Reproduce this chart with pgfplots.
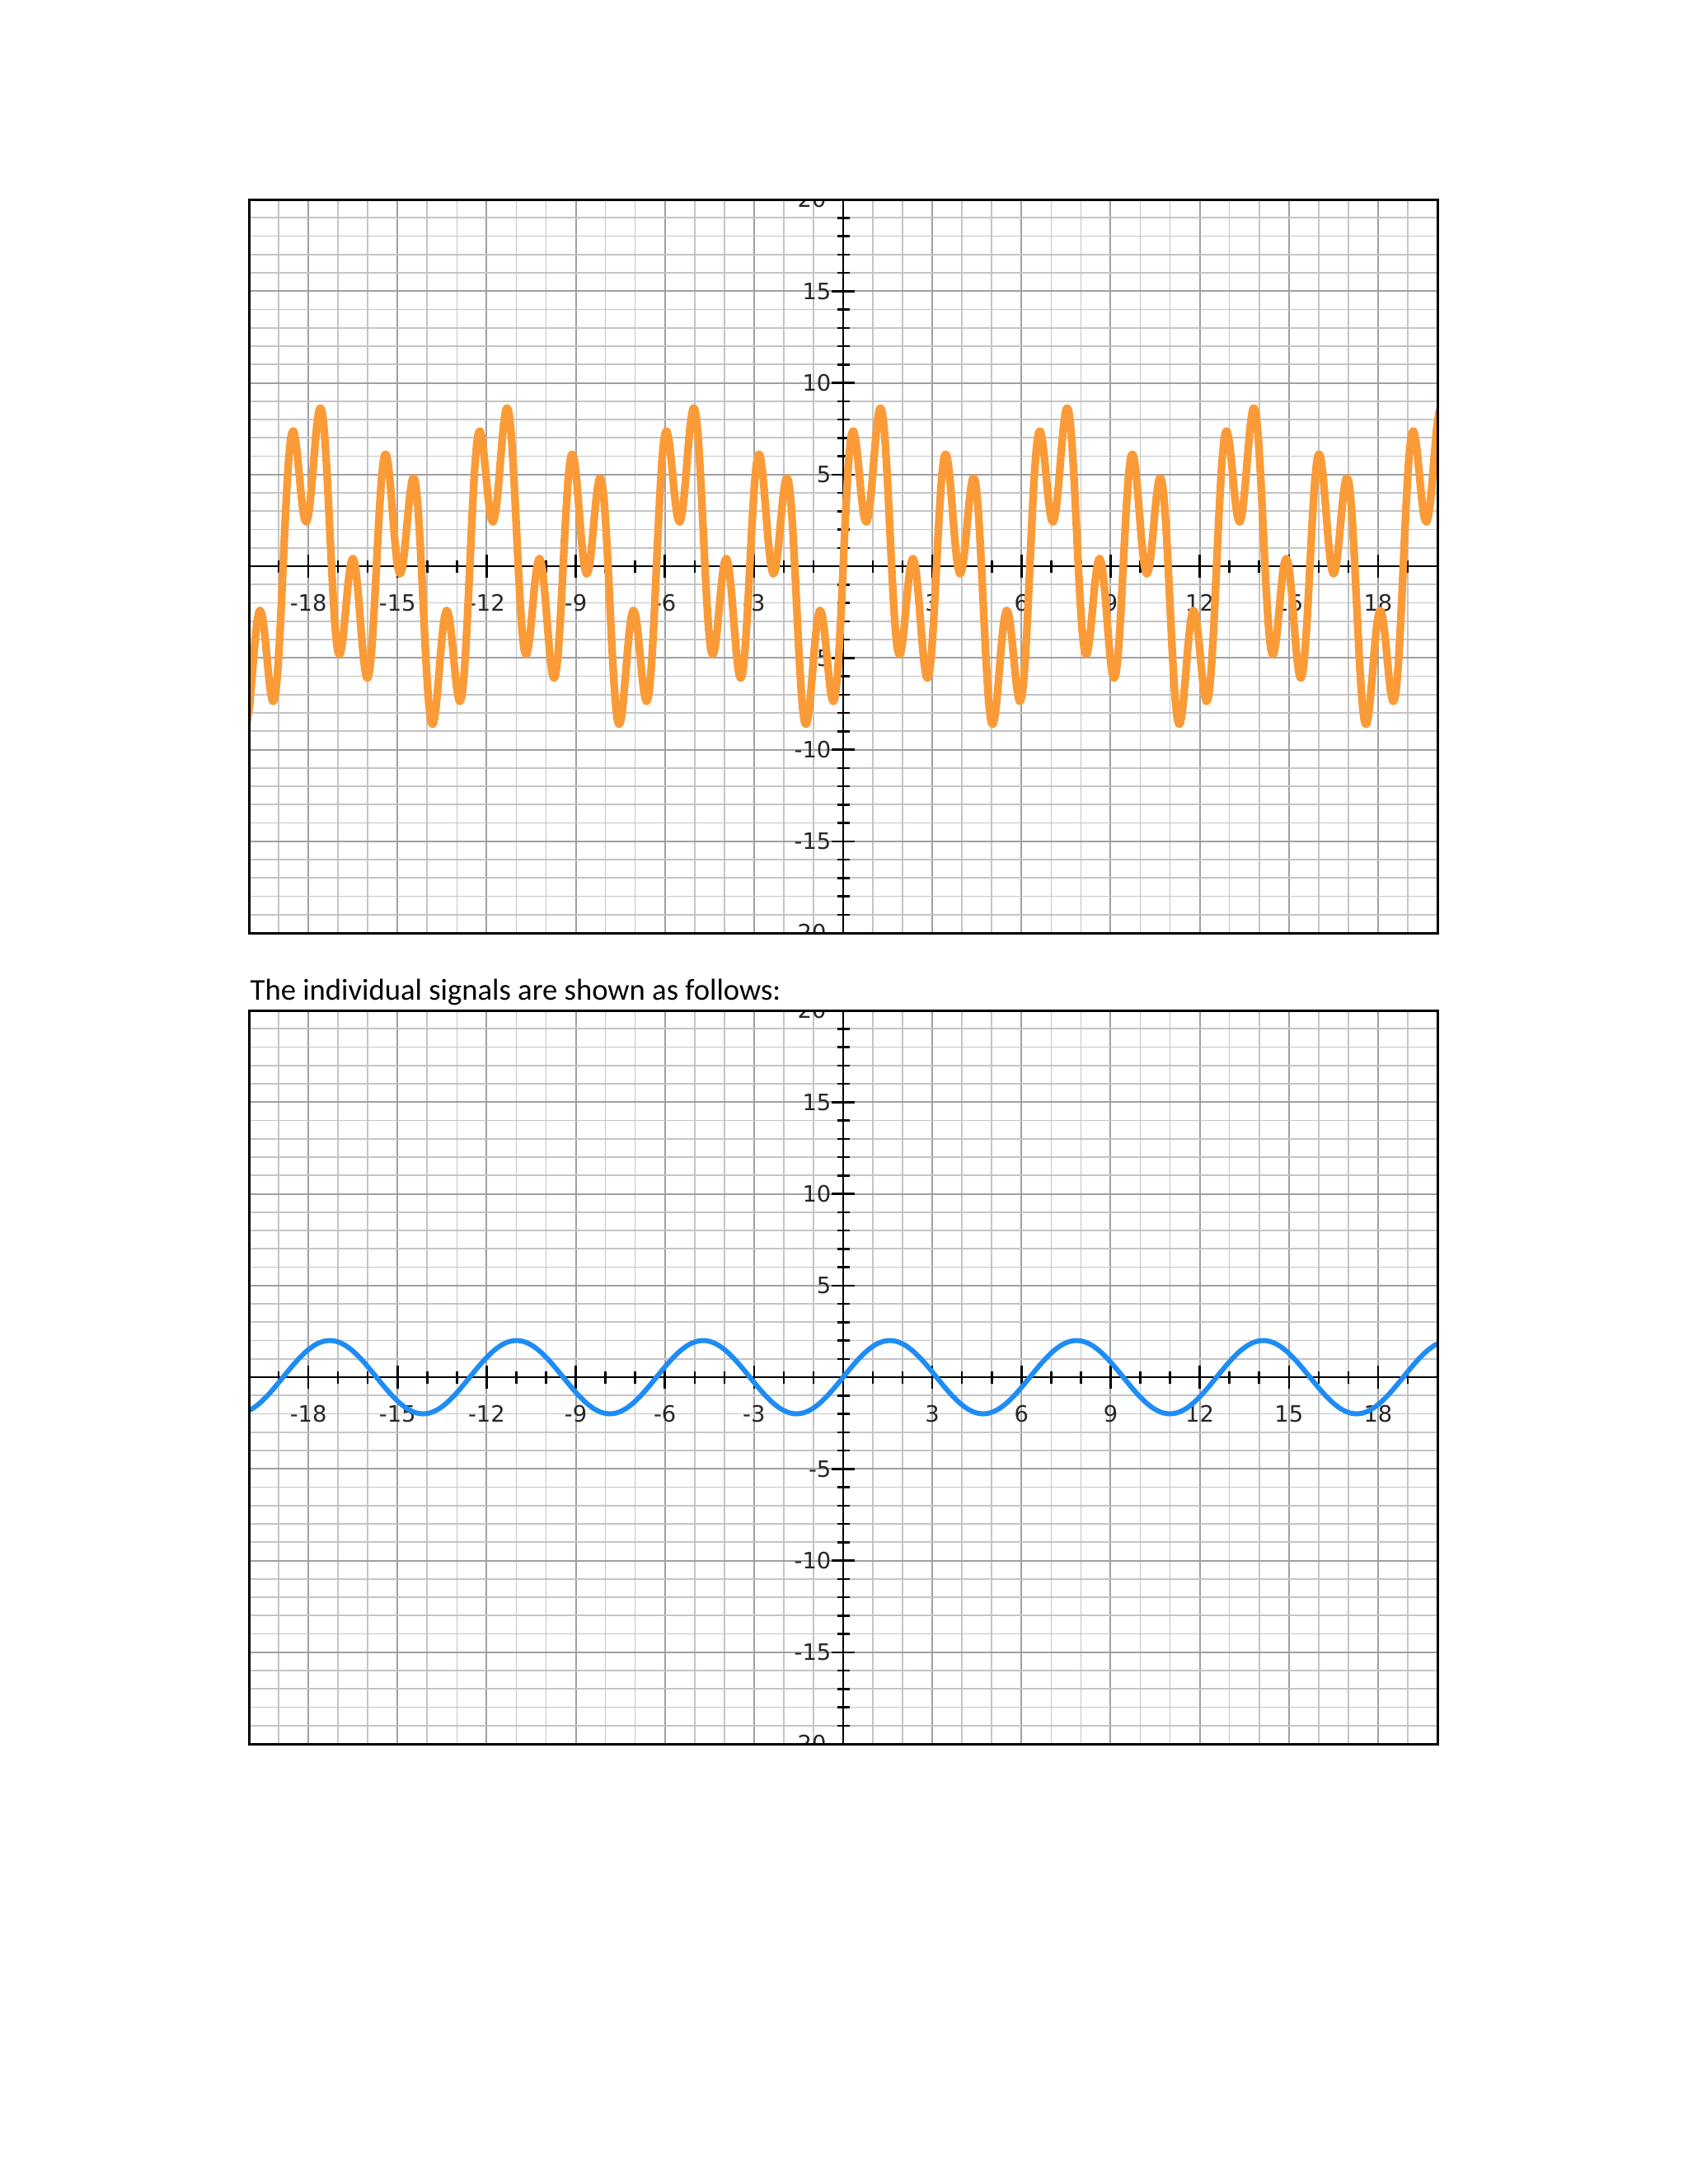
\documentclass[border=0pt]{standalone}
\usepackage{fontspec}
\setmainfont{Carlito}
\newfontfamily\dejavu{DejaVu Sans}
\usepackage{pgfplots}
\usepackage{pgfplotstable}
\pgfplotsset{compat=1.18}
\definecolor{sigorange}{RGB}{250,155,55}
\definecolor{sigblue}{RGB}{30,140,245}
\definecolor{gridminor}{RGB}{196,196,196}
\definecolor{gridmajor}{RGB}{160,160,160}
\pgfplotsset{
  gridaxis/.style={
    scale only axis, width=432.53pt, height=266.96pt,
    anchor=north west,
    xmin=-20, xmax=20, ymin=-20, ymax=20,
    axis lines=middle,
    axis line style={line width=0.8pt, black, -},
    xtick={-18,-15,-12,-9,-6,-3,3,6,9,12,15,18},
    xticklabels={-18,-15,-12,-9,-6,-3,3,6,9,12,15,18},
    minor xtick={-20,-19,...,20},
    ytick={-15,-10,-5,5,10,15},
    yticklabels={-15,-10,-5,5,10,15},
    minor ytick={-20,-19,...,20},
    grid=both,
    minor grid style={line width=0.5pt, color=gridminor},
    major grid style={line width=0.6pt, color=gridmajor},
    tick align=center,
    major tick length=8.4pt,
    minor tick length=4.5pt,
    every tick/.style={black, line width=0.75pt},
    tick label style={font=\dejavu\fontsize{8.2}{10}\selectfont, text=black!85},
    xticklabel style={anchor=north, inner sep=0pt, yshift=-6pt},
    yticklabel style={anchor=east, inner sep=0pt},
    clip=true,
  }
}
\pgfplotstableread{
x y
-20.071 -8.557
-19.984 -7.643
-19.897 -6.062
-19.809 -4.337
-19.722 -2.992
-19.635 -2.414
-19.548 -2.746
-19.460 -3.846
-19.373 -5.330
-19.286 -6.675
-19.199 -7.362
-19.111 -7.018
-19.024 -5.522
-18.937 -3.043
-18.850 0
-18.762 3.043
-18.675 5.522
-18.588 7.018
-18.500 7.362
-18.413 6.675
-18.326 5.330
-18.239 3.846
-18.151 2.746
-18.064 2.414
-17.977 2.992
-17.890 4.337
-17.802 6.062
-17.715 7.643
-17.628 8.557
-17.541 8.432
-17.453 7.144
-17.366 4.861
-17.279 2.000
-17.191 -0.876
-17.104 -3.205
-17.017 -4.568
-16.930 -4.799
-16.842 -4.018
-16.755 -2.598
-16.668 -1.060
-16.581 0.072
-16.493 0.414
-16.406 -0.174
-16.319 -1.551
-16.232 -3.330
-16.144 -4.985
-16.057 -5.994
-15.970 -5.982
-15.882 -4.827
-15.795 -2.694
-15.708 0
-15.621 2.694
-15.533 4.827
-15.446 5.982
-15.359 5.994
-15.272 4.985
-15.184 3.330
-15.097 1.551
-15.010 0.174
-14.923 -0.414
-14.835 -0.072
-14.748 1.060
-14.661 2.598
-14.573 4.018
-14.486 4.799
-14.399 4.568
-14.312 3.205
-14.224 0.876
-14.137 -2.000
-14.050 -4.861
-13.963 -7.144
-13.875 -8.432
-13.788 -8.557
-13.701 -7.643
-13.614 -6.062
-13.526 -4.337
-13.439 -2.992
-13.352 -2.414
-13.265 -2.746
-13.177 -3.846
-13.090 -5.330
-13.003 -6.675
-12.915 -7.362
-12.828 -7.018
-12.741 -5.522
-12.654 -3.043
-12.566 0
-12.479 3.043
-12.392 5.522
-12.305 7.018
-12.217 7.362
-12.130 6.675
-12.043 5.330
-11.956 3.846
-11.868 2.746
-11.781 2.414
-11.694 2.992
-11.606 4.337
-11.519 6.062
-11.432 7.643
-11.345 8.557
-11.257 8.432
-11.170 7.144
-11.083 4.861
-10.996 2.000
-10.908 -0.876
-10.821 -3.205
-10.734 -4.568
-10.647 -4.799
-10.559 -4.018
-10.472 -2.598
-10.385 -1.060
-10.297 0.072
-10.210 0.414
-10.123 -0.174
-10.036 -1.551
-9.948 -3.330
-9.861 -4.985
-9.774 -5.994
-9.687 -5.982
-9.599 -4.827
-9.512 -2.694
-9.425 0
-9.338 2.694
-9.250 4.827
-9.163 5.982
-9.076 5.994
-8.988 4.985
-8.901 3.330
-8.814 1.551
-8.727 0.174
-8.639 -0.414
-8.552 -0.072
-8.465 1.060
-8.378 2.598
-8.290 4.018
-8.203 4.799
-8.116 4.568
-8.029 3.205
-7.941 0.876
-7.854 -2.000
-7.767 -4.861
-7.679 -7.144
-7.592 -8.432
-7.505 -8.557
-7.418 -7.643
-7.330 -6.062
-7.243 -4.337
-7.156 -2.992
-7.069 -2.414
-6.981 -2.746
-6.894 -3.846
-6.807 -5.330
-6.720 -6.675
-6.632 -7.362
-6.545 -7.018
-6.458 -5.522
-6.370 -3.043
-6.283 0
-6.196 3.043
-6.109 5.522
-6.021 7.018
-5.934 7.362
-5.847 6.675
-5.760 5.330
-5.672 3.846
-5.585 2.746
-5.498 2.414
-5.411 2.992
-5.323 4.337
-5.236 6.062
-5.149 7.643
-5.061 8.557
-4.974 8.432
-4.887 7.144
-4.800 4.861
-4.712 2.000
-4.625 -0.876
-4.538 -3.205
-4.451 -4.568
-4.363 -4.799
-4.276 -4.018
-4.189 -2.598
-4.102 -1.060
-4.014 0.072
-3.927 0.414
-3.840 -0.174
-3.752 -1.551
-3.665 -3.330
-3.578 -4.985
-3.491 -5.994
-3.403 -5.982
-3.316 -4.827
-3.229 -2.694
-3.142 0
-3.054 2.694
-2.967 4.827
-2.880 5.982
-2.793 5.994
-2.705 4.985
-2.618 3.330
-2.531 1.551
-2.443 0.174
-2.356 -0.414
-2.269 -0.072
-2.182 1.060
-2.094 2.598
-2.007 4.018
-1.920 4.799
-1.833 4.568
-1.745 3.205
-1.658 0.876
-1.571 -2.000
-1.484 -4.861
-1.396 -7.144
-1.309 -8.432
-1.222 -8.557
-1.134 -7.643
-1.047 -6.062
-0.960 -4.337
-0.873 -2.992
-0.785 -2.414
-0.698 -2.746
-0.611 -3.846
-0.524 -5.330
-0.436 -6.675
-0.349 -7.362
-0.262 -7.018
-0.175 -5.522
-0.087 -3.043
0.000 0
0.087 3.043
0.175 5.522
0.262 7.018
0.349 7.362
0.436 6.675
0.524 5.330
0.611 3.846
0.698 2.746
0.785 2.414
0.873 2.992
0.960 4.337
1.047 6.062
1.134 7.643
1.222 8.557
1.309 8.432
1.396 7.144
1.484 4.861
1.571 2.000
1.658 -0.876
1.745 -3.205
1.833 -4.568
1.920 -4.799
2.007 -4.018
2.094 -2.598
2.182 -1.060
2.269 0.072
2.356 0.414
2.443 -0.174
2.531 -1.551
2.618 -3.330
2.705 -4.985
2.793 -5.994
2.880 -5.982
2.967 -4.827
3.054 -2.694
3.142 0
3.229 2.694
3.316 4.827
3.403 5.982
3.491 5.994
3.578 4.985
3.665 3.330
3.752 1.551
3.840 0.174
3.927 -0.414
4.014 -0.072
4.102 1.060
4.189 2.598
4.276 4.018
4.363 4.799
4.451 4.568
4.538 3.205
4.625 0.876
4.712 -2.000
4.800 -4.861
4.887 -7.144
4.974 -8.432
5.061 -8.557
5.149 -7.643
5.236 -6.062
5.323 -4.337
5.411 -2.992
5.498 -2.414
5.585 -2.746
5.672 -3.846
5.760 -5.330
5.847 -6.675
5.934 -7.362
6.021 -7.018
6.109 -5.522
6.196 -3.043
6.283 0
6.370 3.043
6.458 5.522
6.545 7.018
6.632 7.362
6.720 6.675
6.807 5.330
6.894 3.846
6.981 2.746
7.069 2.414
7.156 2.992
7.243 4.337
7.330 6.062
7.418 7.643
7.505 8.557
7.592 8.432
7.679 7.144
7.767 4.861
7.854 2.000
7.941 -0.876
8.029 -3.205
8.116 -4.568
8.203 -4.799
8.290 -4.018
8.378 -2.598
8.465 -1.060
8.552 0.072
8.639 0.414
8.727 -0.174
8.814 -1.551
8.901 -3.330
8.988 -4.985
9.076 -5.994
9.163 -5.982
9.250 -4.827
9.338 -2.694
9.425 0
9.512 2.694
9.599 4.827
9.687 5.982
9.774 5.994
9.861 4.985
9.948 3.330
10.036 1.551
10.123 0.174
10.210 -0.414
10.297 -0.072
10.385 1.060
10.472 2.598
10.559 4.018
10.647 4.799
10.734 4.568
10.821 3.205
10.908 0.876
10.996 -2.000
11.083 -4.861
11.170 -7.144
11.257 -8.432
11.345 -8.557
11.432 -7.643
11.519 -6.062
11.606 -4.337
11.694 -2.992
11.781 -2.414
11.868 -2.746
11.956 -3.846
12.043 -5.330
12.130 -6.675
12.217 -7.362
12.305 -7.018
12.392 -5.522
12.479 -3.043
12.566 0
12.654 3.043
12.741 5.522
12.828 7.018
12.915 7.362
13.003 6.675
13.090 5.330
13.177 3.846
13.265 2.746
13.352 2.414
13.439 2.992
13.526 4.337
13.614 6.062
13.701 7.643
13.788 8.557
13.875 8.432
13.963 7.144
14.050 4.861
14.137 2.000
14.224 -0.876
14.312 -3.205
14.399 -4.568
14.486 -4.799
14.573 -4.018
14.661 -2.598
14.748 -1.060
14.835 0.072
14.923 0.414
15.010 -0.174
15.097 -1.551
15.184 -3.330
15.272 -4.985
15.359 -5.994
15.446 -5.982
15.533 -4.827
15.621 -2.694
15.708 0
15.795 2.694
15.882 4.827
15.970 5.982
16.057 5.994
16.144 4.985
16.232 3.330
16.319 1.551
16.406 0.174
16.493 -0.414
16.581 -0.072
16.668 1.060
16.755 2.598
16.842 4.018
16.930 4.799
17.017 4.568
17.104 3.205
17.191 0.876
17.279 -2.000
17.366 -4.861
17.453 -7.144
17.541 -8.432
17.628 -8.557
17.715 -7.643
17.802 -6.062
17.890 -4.337
17.977 -2.992
18.064 -2.414
18.151 -2.746
18.239 -3.846
18.326 -5.330
18.413 -6.675
18.500 -7.362
18.588 -7.018
18.675 -5.522
18.762 -3.043
18.850 0
18.937 3.043
19.024 5.522
19.111 7.018
19.199 7.362
19.286 6.675
19.373 5.330
19.460 3.846
19.548 2.746
19.635 2.414
19.722 2.992
19.809 4.337
19.897 6.062
19.984 7.643
20.071 8.557
}\sumdata
\pgfplotstableread{
x y
-20.159 -1.932
-19.897 -1.732
-19.635 -1.414
-19.373 -1
-19.111 -0.518
-18.850 0
-18.588 0.518
-18.326 1
-18.064 1.414
-17.802 1.732
-17.541 1.932
-17.279 2
-17.017 1.932
-16.755 1.732
-16.493 1.414
-16.232 1
-15.970 0.518
-15.708 0
-15.446 -0.518
-15.184 -1
-14.923 -1.414
-14.661 -1.732
-14.399 -1.932
-14.137 -2
-13.875 -1.932
-13.614 -1.732
-13.352 -1.414
-13.090 -1
-12.828 -0.518
-12.566 0
-12.305 0.518
-12.043 1
-11.781 1.414
-11.519 1.732
-11.257 1.932
-10.996 2
-10.734 1.932
-10.472 1.732
-10.210 1.414
-9.948 1
-9.687 0.518
-9.425 0
-9.163 -0.518
-8.901 -1
-8.639 -1.414
-8.378 -1.732
-8.116 -1.932
-7.854 -2
-7.592 -1.932
-7.330 -1.732
-7.069 -1.414
-6.807 -1
-6.545 -0.518
-6.283 0
-6.021 0.518
-5.760 1
-5.498 1.414
-5.236 1.732
-4.974 1.932
-4.712 2
-4.451 1.932
-4.189 1.732
-3.927 1.414
-3.665 1
-3.403 0.518
-3.142 0
-2.880 -0.518
-2.618 -1
-2.356 -1.414
-2.094 -1.732
-1.833 -1.932
-1.571 -2
-1.309 -1.932
-1.047 -1.732
-0.785 -1.414
-0.524 -1
-0.262 -0.518
0.000 0
0.262 0.518
0.524 1
0.785 1.414
1.047 1.732
1.309 1.932
1.571 2
1.833 1.932
2.094 1.732
2.356 1.414
2.618 1
2.880 0.518
3.142 0
3.403 -0.518
3.665 -1
3.927 -1.414
4.189 -1.732
4.451 -1.932
4.712 -2
4.974 -1.932
5.236 -1.732
5.498 -1.414
5.760 -1
6.021 -0.518
6.283 0
6.545 0.518
6.807 1
7.069 1.414
7.330 1.732
7.592 1.932
7.854 2
8.116 1.932
8.378 1.732
8.639 1.414
8.901 1
9.163 0.518
9.425 0
9.687 -0.518
9.948 -1
10.210 -1.414
10.472 -1.732
10.734 -1.932
10.996 -2
11.257 -1.932
11.519 -1.732
11.781 -1.414
12.043 -1
12.305 -0.518
12.566 0
12.828 0.518
13.090 1
13.352 1.414
13.614 1.732
13.875 1.932
14.137 2
14.399 1.932
14.661 1.732
14.923 1.414
15.184 1
15.446 0.518
15.708 0
15.970 -0.518
16.232 -1
16.493 -1.414
16.755 -1.732
17.017 -1.932
17.279 -2
17.541 -1.932
17.802 -1.732
18.064 -1.414
18.326 -1
18.588 -0.518
18.850 0
19.111 0.518
19.373 1
19.635 1.414
19.897 1.732
20.159 1.932
}\sindata
\begin{document}
\begin{tikzpicture}
\path[use as bounding box, fill=white] (0pt,0pt) rectangle (614.30pt,-794.87pt);
% upper chart: the sum of the signals
\begin{axis}[gridaxis, at={(90.585pt,-72.588pt)}]
  \node[font=\dejavu\fontsize{8.2}{10}\selectfont, text=black!85, anchor=east, inner sep=0pt] at (axis cs:-0.55,20) {20};
  \node[font=\dejavu\fontsize{8.2}{10}\selectfont, text=black!85, anchor=east, inner sep=0pt] at (axis cs:-0.55,-20) {-20};
  \addplot[sigorange, line width=2.8pt, smooth, line join=round] table[x=x, y=y] {\sumdata};
\end{axis}
\draw[line width=0.9pt, black] (90.585pt,-72.588pt) rectangle (523.115pt,-339.546pt);
\node[anchor=base west, inner sep=0pt, font=\fontsize{11}{13}\selectfont] at (90.885pt,-363.98pt) {The individual signals are shown as follows:};
% lower chart: first individual signal
\begin{axis}[gridaxis, at={(90.585pt,-367.739pt)}]
  \node[font=\dejavu\fontsize{8.2}{10}\selectfont, text=black!85, anchor=east, inner sep=0pt] at (axis cs:-0.55,20) {20};
  \node[font=\dejavu\fontsize{8.2}{10}\selectfont, text=black!85, anchor=east, inner sep=0pt] at (axis cs:-0.55,-20) {-20};
  \addplot[sigblue, line width=1.8pt, smooth, line join=round] table[x=x, y=y] {\sindata};
\end{axis}
\draw[line width=0.9pt, black] (90.585pt,-367.739pt) rectangle (523.115pt,-634.697pt);
\end{tikzpicture}
\end{document}
